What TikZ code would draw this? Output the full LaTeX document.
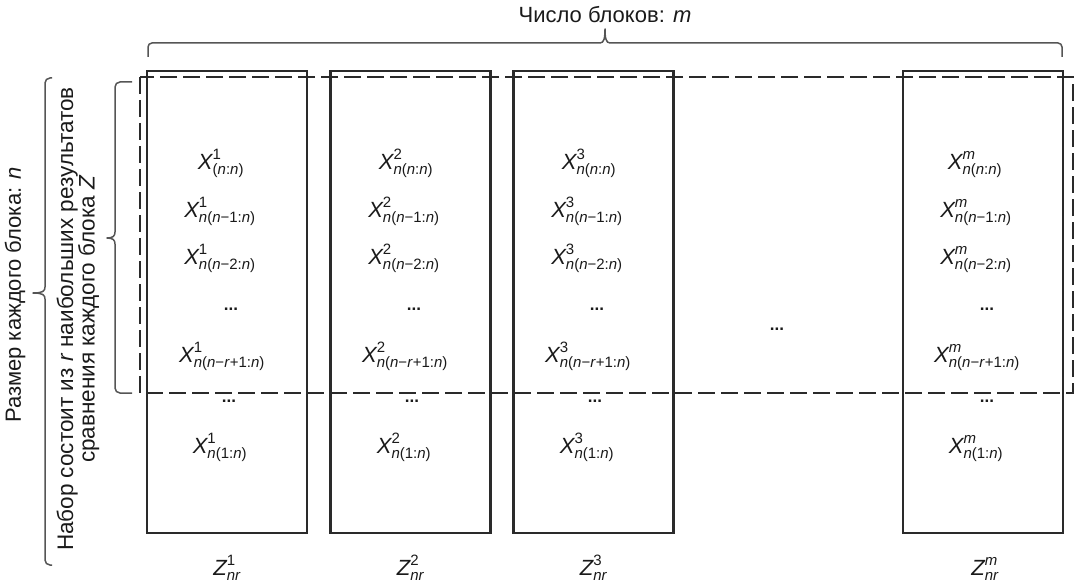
\documentclass[tikz,border=0pt]{standalone}
\usepackage{fontspec}
\setmainfont{Liberation Sans}
\newcommand\subfnt{\fontsize{15}{16}\selectfont}
\newcommand\Xe[2]{\ensuremath{\hbox{\itshape X}^{\hbox{\subfnt #1}}_{\hbox{\subfnt #2}}}}
\newcommand\Ze[1]{\ensuremath{\hbox{\itshape Z}^{\hbox{\subfnt #1}}_{\hbox{\subfnt\itshape nr}}}}
\newcommand\ii[1]{\textit{#1}}
\definecolor{ln}{HTML}{2A2A2A}
\definecolor{txt}{HTML}{1A1A1A}
\definecolor{br}{HTML}{555555}
\begin{document}
\begin{tikzpicture}[x=1pt,y=-1pt,
  blk/.style={draw=ln, line width=2.1pt, minimum width=160pt, minimum height=462pt, inner sep=0pt},
  dsh/.style={draw=ln, line width=2.3pt, dash pattern=on 17pt off 6pt},
  brc/.style={draw=br, line width=1.5pt, line join=round},
  ex/.style={anchor=base, inner sep=0pt, text=txt, font=\fontsize{22}{26}\selectfont},
  dts/.style={inner sep=0pt, text=txt, font=\fontsize{17}{18}\selectfont\bfseries},
  lbl/.style={inner sep=0pt, text=txt, font=\fontsize{22}{22}\selectfont}]
\useasboundingbox (0,0) rectangle (1078,583);
% blocks
\node[blk] (b1) at (227,302) {};
\node[blk] (b2) at (410.5,302) {};
\node[blk] (b3) at (593.5,302) {};
\node[blk] (bm) at (983,302) {};
% dashed selection
\draw[dsh] (140,77) rectangle (1073,393);
% top brace
\coordinate (tbL) at (148,57);
\coordinate (tbR) at (1062,57);
\draw[brc,rounded corners=4pt] (tbL) -- (148,43) -- (600,43);
\draw[brc] (600,43) .. controls (604,43) and (605,38) .. (605,29) .. controls (605,38) and (606,43) .. (610,43);
\draw[brc,rounded corners=4pt] (610,43) -- (1062,43) -- (tbR);
\node[lbl] (tm) at (605,15) {Число блоков: \ii{m}};
% inner left brace
\draw[brc,rounded corners=5pt] (132,82) -- (115,82) -- (115,232);
\draw[brc] (115,232) .. controls (115,236) and (113,238) .. (107,238) .. controls (113,238) and (115,240) .. (115,244);
\draw[brc,rounded corners=5pt] (115,244) -- (115,393) -- (132,393);
% outer left brace
\draw[brc,rounded corners=5pt] (52,78) -- (45,78) -- (45,287);
\draw[brc] (45,287) .. controls (45,291) and (43,293) .. (33,293) .. controls (43,293) and (45,295) .. (45,299);
\draw[brc,rounded corners=5pt] (45,299) -- (45,565) -- (52,565);
\node[lbl,rotate=90] (sz) at (15,295) {Размер каждого блока: \ii{n}};
\node[lbl,rotate=90,align=center,font=\fontsize{22.5}{21.5}\selectfont] (nb) at (78,319) {Набор состоит из \ii{r} наибольших результатов\\сравнения каждого блока \ii{Z}};
% column 1
\node[ex] (a1) at (221,169) {\Xe{1}{(\ii{n}:\ii{n})}};
\node[ex] (a2) at (220,217) {\Xe{1}{\ii{n}(\ii{n}−1:\ii{n})}};
\node[ex] (a3) at (220,264) {\Xe{1}{\ii{n}(\ii{n}−2:\ii{n})}};
\node[dts] (a4) at (231,309) {...};
\node[ex] (a5) at (222,362) {\Xe{1}{\ii{n}(\ii{n}−\ii{r}+1:\ii{n})}};
\node[dts] (a6) at (229,401) {...};
\node[ex] (a7) at (220,453) {\Xe{1}{\ii{n}(1:\ii{n})}};
\node[ex] (z1) at (227,575) {\Ze{1}};
% column 2
\node[ex] (c1) at (406,169) {\Xe{2}{\ii{n}(\ii{n}:\ii{n})}};
\node[ex] (c2) at (404,217) {\Xe{2}{\ii{n}(\ii{n}−1:\ii{n})}};
\node[ex] (c3) at (404,264) {\Xe{2}{\ii{n}(\ii{n}−2:\ii{n})}};
\node[dts] (c4) at (414,309) {...};
\node[ex] (c5) at (405,362) {\Xe{2}{\ii{n}(\ii{n}−\ii{r}+1:\ii{n})}};
\node[dts] (c6) at (412,401) {...};
\node[ex] (c7) at (404,453) {\Xe{2}{\ii{n}(1:\ii{n})}};
\node[ex] (z2) at (410.5,575) {\Ze{2}};
% column 3
\node[ex] (d1) at (589,169) {\Xe{3}{\ii{n}(\ii{n}:\ii{n})}};
\node[ex] (d2) at (587,217) {\Xe{3}{\ii{n}(\ii{n}−1:\ii{n})}};
\node[ex] (d3) at (587,264) {\Xe{3}{\ii{n}(\ii{n}−2:\ii{n})}};
\node[dts] (d4) at (597,309) {...};
\node[ex] (d5) at (588,362) {\Xe{3}{\ii{n}(\ii{n}−\ii{r}+1:\ii{n})}};
\node[dts] (d6) at (595,401) {...};
\node[ex] (d7) at (587,453) {\Xe{3}{\ii{n}(1:\ii{n})}};
\node[ex] (z3) at (593.5,575) {\Ze{3}};
% middle dots
\node[dts] (mid) at (777,329) {...};
% column m
\node[ex] (e1) at (975,169) {\Xe{\ii{m}}{\ii{n}(\ii{n}:\ii{n})}};
\node[ex] (e2) at (976,217) {\Xe{\ii{m}}{\ii{n}(\ii{n}−1:\ii{n})}};
\node[ex] (e3) at (976,264) {\Xe{\ii{m}}{\ii{n}(\ii{n}−2:\ii{n})}};
\node[dts] (e4) at (987,309) {...};
\node[ex] (e5) at (977,362) {\Xe{\ii{m}}{\ii{n}(\ii{n}−\ii{r}+1:\ii{n})}};
\node[dts] (e6) at (987,401) {...};
\node[ex] (e7) at (976,453) {\Xe{\ii{m}}{\ii{n}(1:\ii{n})}};
\node[ex] (zm) at (985,575) {\Ze{\ii{m}}};
\end{tikzpicture}
\end{document}
